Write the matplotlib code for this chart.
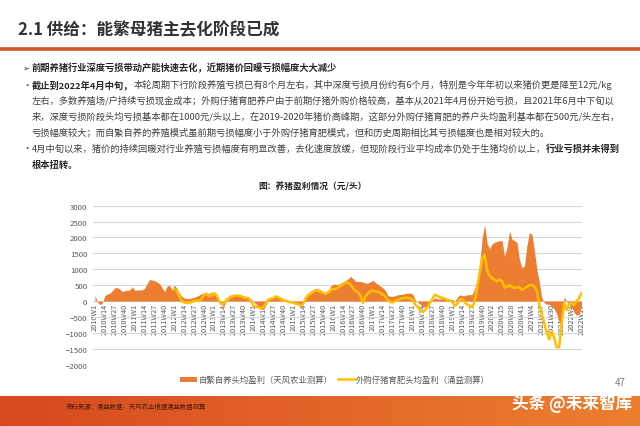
import numpy as np
import matplotlib.pyplot as plt
from matplotlib.colors import LinearSegmentedColormap
from matplotlib.patches import Rectangle

plt.rcParams['font.family'] = ['Noto Sans CJK SC', 'DejaVu Sans']

# ── Chart data (元/头) ────────────────────────────────────────────────────────
# one sample every ~3 weeks, four samples per axis label step
week_labels = (
    [f"{y}W{w}" for y in range(2010, 2020) for w in (1, 14, 27, 40)]
    + ["2020W2", "2020W15", "2020W28", "2020W41",
       "2021W4", "2021W17", "2021W30", "2021W43",
       "2022W4", "2022W17"]
)

# 自繁自养头均盈利 (from 2010W1)
self_bred_profit = [
    180, -30, -110, -60, 180, 220, 250, 330, 420, 420,
    380, 300, 330, 340, 350, 450, 340, 350, 350, 360,
    400, 550, 680, 660, 640, 600, 550, 420, 300, 460,
    500, 350, 500, 400, 250, 140, 100, 80, 80, 100,
    120, 150, 190, 230, 260, 200, 240, 280, 270, 200,
    0, -100, -150, 0, 80, 150, 180, 200, 200, 170,
    150, 150, 120, 50, -30, -100, -180, -250, -250, -100,
    30, 80, 100, 150, 130, 100, 80, 50, 20, 0,
    -50, -80, -120, -200, -80, 100, 250, 320, 350, 400,
    380, 350, 300, 220, 300, 480, 530, 530, 520, 560,
    600, 650, 700, 780, 700, 620, 610, 620, 600, 560,
    570, 610, 650, 580, 520, 470, 420, 330, 170, 150,
    150, 170, 200, 210, 220, 240, 250, 250, 220, 40,
    -30, -100, -170, -200, -120, -30, 40, 100, 70, 60,
    100, 80, 50, 50, 50, 0, 120, 200, 170, 170,
    200, 200, 220, 400, 650, 1200, 2000, 2400, 1800, 1650,
    1800, 1850, 1880, 1900, 1900, 1400, 1700, 2200, 1950, 1900,
    1850, 1300, 1050, 1100, 1750, 2150, 2100, 1600, 1000, 600,
    100, -50, -100, -100, -150, -250, -400, -650, -800, 150,
    -20, -80, -200, -350, -450, -400, -200,
]

# 外购仔猪育肥头均盈利 (from 2012W1)
purchased_profit = [
    380, 320, 150, 0, -50, -60, -50, -30,
    0, 20, 0, 80, 200, 230, 150, 180, 250, 180,
    0, -100, -70, 50, 100, 150, 160, 180, 170, 150,
    110, 100, 80, -20, -150, -180, -200, -240, -180, -50,
    60, 80, 100, 150, 110, 60, 30, 0, -20, -40,
    -50, -80, -100, -150, -60, 100, 200, 240, 300, 350,
    310, 290, 260, 230, 280, 350, 380, 380, 430, 480,
    530, 590, 580, 520, 400, 320, 280, 150, -60, 150,
    250, 310, 330, 310, 290, 260, 200, 140, 20, -30,
    -40, 0, 40, 70, 100, 100, 100, 90, 40, -110,
    -180, -300, -340, -290, -180, -50, 80, 200, 160, 120,
    100, 70, 40, 20, -30, -150, -80, 50, 60, -40,
    -110, -150, -190, 0, 450, 900, 1350, 1450, 950, 800,
    720, 670, 620, 680, 620, 420, 450, 500, 450, 410,
    430, 430, 360, 390, 450, 500, 500, 460, 320, -100,
    -400, -700, -1000, -1200, -950, -1150, -1450, -1450, -750, -50,
    -280, -100, -60, -130, 0, 80, 250,
]

legend_labels = ["自繁自养头均盈利（天风农业测算）", "外购仔猪育肥头均盈利（涌益测算）"]

ORANGE = "#ED7D31"
YELLOW = "#FFC000"
RULE = "#D2532A"
TEXT = "#404040"
DARK = "#262626"

fig = plt.figure(figsize=(6.4, 4.27), dpi=100)

# background axes in pixel coordinates for the slide decoration
bg = fig.add_axes([0, 0, 1, 1])
bg.axis("off")

# footer gradient band
cmap = LinearSegmentedColormap.from_list("band", ["#D6481E", "#E3652A", "#EC7F2E"])
bg.imshow(np.linspace(0, 1, 256)[None, :], cmap=cmap, aspect="auto",
          extent=(0, 640, 427, 397), zorder=0)
bg.set_xlim(0, 640)
bg.set_ylim(427, 0)

# title + rule
bg.text(18, 30, "2.1 供给：能繁母猪主去化阶段已成", fontsize=12, fontweight="bold",
        color="#333333", va="center", ha="left")
bg.plot([0, 640], [50, 50], color=RULE, lw=2.6, solid_capstyle="butt")

fs = 6.7


def line(y, parts, x=32):
    """Write one text line made of (text, bold) pieces."""
    first, bold = parts[0]
    t = bg.text(x, y, first, fontsize=fs, va="center", ha="left",
                fontweight="bold" if bold else "normal", color=DARK if bold else TEXT)
    for s, bold in parts[1:]:
        t = bg.annotate(s, xy=(1, 0.5), xycoords=t, va="center", ha="left", fontsize=fs,
                        fontweight="bold" if bold else "normal",
                        color=DARK if bold else TEXT)
    return t


bg.text(22, 68, "➢", fontsize=6, va="center", ha="left", color=DARK,
        family=["DejaVu Sans"])
line(68, [("前期养猪行业深度亏损带动产能快速去化，近期猪价回暖亏损幅度大大减少", True)])
bg.text(22, 85, "·", fontsize=fs, va="center", ha="left", color=TEXT)
line(85, [("截止到2022年4月中旬，", True),
          ("本轮周期下行阶段养殖亏损已有8个月左右，其中深度亏损月份约有6个月，特别是今年年初以来猪价更是降至12元/kg", False)])
line(101, [("左右，多数养殖场/户持续亏损现金成本；外购仔猪育肥养户由于前期仔猪外购价格较高，基本从2021年4月份开始亏损，且2021年6月中下旬以", False)])
line(117, [("来，深度亏损阶段头均亏损基本都在1000元/头以上，在2019-2020年猪价高峰期，这部分外购仔猪育肥的养户头均盈利基本都在500元/头左右，", False)])
line(133, [("亏损幅度较大；而自繁自养的养殖模式虽前期亏损幅度小于外购仔猪育肥模式，但和历史周期相比其亏损幅度也是相对较大的。", False)])
bg.text(22, 149, "·", fontsize=fs, va="center", ha="left", color=TEXT)
line(149, [("4月中旬以来，猪价的持续回暖对行业养殖亏损幅度有明显改善，去化速度放缓，但现阶段行业平均成本仍处于生猪均价以上，", False),
           ("行业亏损并未得到", True)])
line(165, [("根本扭转。", True)])

bg.text(313, 187, "图：养猪盈利情况（元/头）", fontsize=6.3, fontweight="bold",
        color=DARK, va="center", ha="center")

# legend
bg.add_patch(Rectangle((180, 377.5), 17, 5, color=ORANGE, lw=0))
bg.text(199, 380, legend_labels[0], fontsize=6, color="#595959", va="center", ha="left")
bg.plot([338, 355], [380, 380], color=YELLOW, lw=1.8)
bg.text(356, 380, legend_labels[1], fontsize=6, color="#595959", va="center", ha="left")

# page number, source and watermark
bg.text(620, 383, "47", fontsize=7, color="#7F7F7F", va="center", ha="center")
bg.text(66, 407, "资料来源：涌益数据，天风农业根据涌益数据测算", fontsize=4.6,
        color="#4A1E0A", va="center", ha="left")
bg.text(632, 404, "头条 @未来智库", fontsize=12, fontweight="bold", color="white",
        va="center", ha="right")

# ── Chart ──────────────────────────────────────────────────────────────────────
ax = fig.add_axes([93 / 640, 1 - 365.7 / 427, (582 - 93) / 640, (365.7 - 206.7) / 427])
ax.set_facecolor("none")

x = np.arange(len(self_bred_profit))
x_purchased = x[len(x) - len(purchased_profit):]

ax.fill_between(x, 0, self_bred_profit, color=ORANGE, lw=0, zorder=2)
ax.plot(x_purchased, purchased_profit, color=YELLOW, lw=1.8, zorder=3)

ax.set_xlim(-0.8, len(x) - 0.8)
ax.set_ylim(-2000, 3000)
ax.set_yticks(range(-2000, 3001, 500))
ax.yaxis.grid(True, color="#D9D9D9", lw=0.8)
ax.set_axisbelow(True)
for side in ("top", "right", "left"):
    ax.spines[side].set_visible(False)
ax.spines["bottom"].set_position(("data", 0))
ax.spines["bottom"].set_visible(False)

ax.set_xticks(x[::4])
ax.set_xticklabels(week_labels, rotation=90, fontsize=5.3, color="#595959")
ax.tick_params(axis="x", length=0, pad=1.5)
ax.tick_params(axis="y", length=0, pad=4, labelsize=5.6, labelcolor="#595959")

fig.savefig("out.png", dpi=100)
